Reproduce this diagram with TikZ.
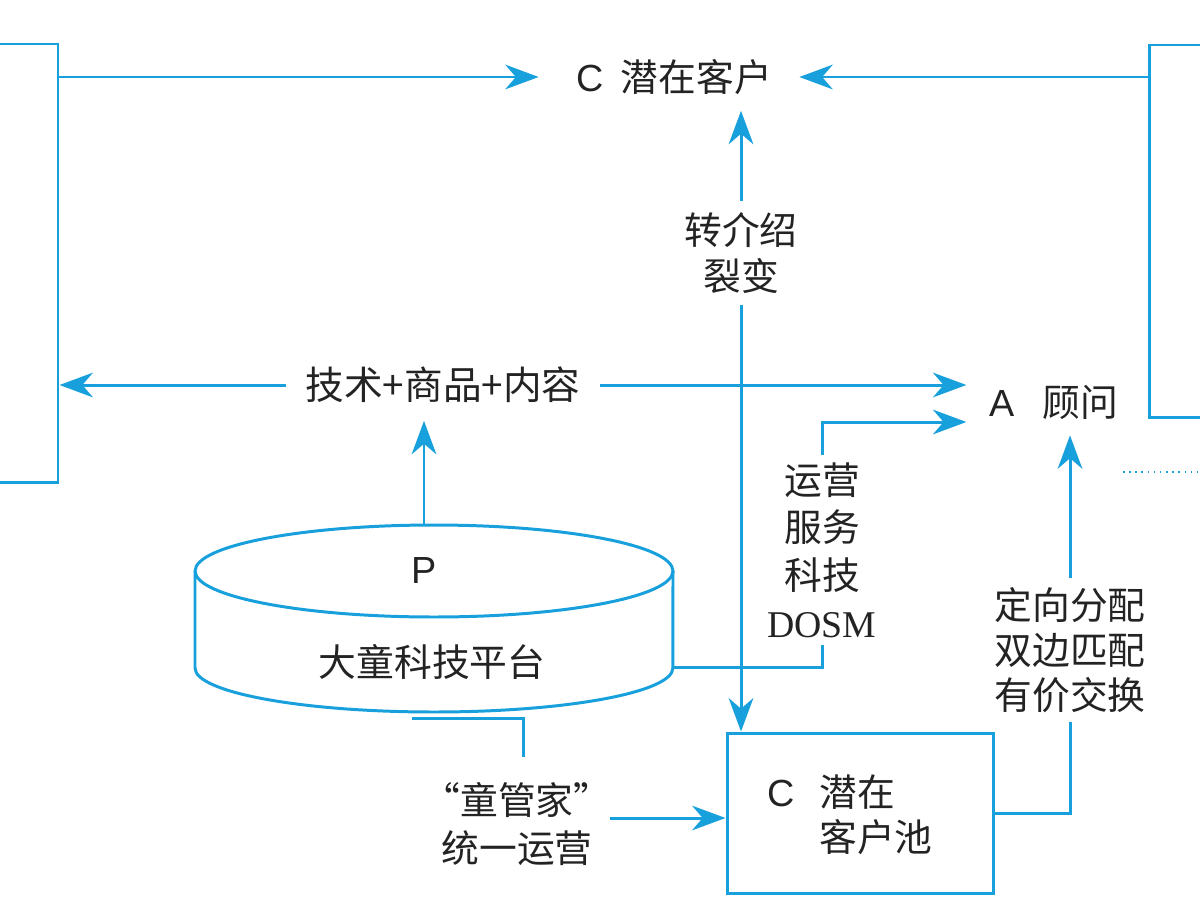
\documentclass[tikz,border=0pt]{standalone}
\usepackage{fontspec}
\setmainfont{Liberation Serif}
\newfontfamily\cnf{Noto Sans CJK SC}
\newfontfamily\latf{Liberation Sans}
\newfontfamily\serf{Liberation Serif}
\usetikzlibrary{arrows.meta,calc,fit}
\definecolor{bl}{RGB}{24,160,221}
\definecolor{txt}{RGB}{35,35,35}
\tikzset{
  ln/.style={draw=bl, line width=1.7pt},
  arr/.style={ln, -{Stealth[length=19pt,width=14pt,inset=6pt]}},
  boxst/.style={ln, inner sep=0pt},
  lbl/.style={inner sep=0pt, text=txt, align=center, font=\cnf\fontsize{21.5}{26.6}\selectfont},
}
\begin{document}
\begin{tikzpicture}[x=0.02cm, y=-0.02cm]
\useasboundingbox (0,0) rectangle (1200,900);
\clip (0,0) rectangle (1200,900);

% boxes
\node[boxst, fit={(-30,44) (58,482)}] (lbox) {};
\node[boxst, fit={(1149,45) (1240,417)}] (rbox) {};
\node[boxst, fit={(727,733) (993,893)}] (pool) {};

% text nodes
\node[lbl, inner ysep=9pt] (cpot) at (674,77) {{\latf C}\hspace{10pt}潜在客户};
\node[lbl, inner xsep=13pt, inner ysep=9pt] (adv) at (1054,402) {{\latf A}\hspace{16pt}顾问};
\node[lbl, inner xsep=11pt, inner ysep=10pt, font=\cnf\fontsize{22}{26.6}\selectfont] (tech) at (443,385) {技术+商品+内容};
\node[lbl, inner ysep=6pt, font=\cnf\fontsize{21.5}{26.6}\selectfont] (ref) at (741,253) {转介绍\\裂变};
\node[lbl, inner ysep=4pt, font=\cnf\fontsize{21.5}{27.2}\selectfont] (dosm) at (822,550) {运营\\服务\\科技\\{\serf DOSM}};
\node[lbl, inner ysep=5pt, font=\cnf\fontsize{21.5}{25.5}\selectfont] (match) at (1070,650) {定向分配\\双边匹配\\有价交换};
\node[lbl, inner xsep=9pt, font=\cnf\fontsize{21.5}{27}\selectfont] (unify) at (517,824) {“童管家”\\统一运营};
\node[lbl, font=\latf\fontsize{21.5}{26}\selectfont] (pc) at (781,793) {C};
\node[lbl, anchor=west, align=left, font=\cnf\fontsize{21.5}{25.5}\selectfont] (pt) at (819,815) {潜在\\客户池};

% cylinder
\draw[ln] (434,571) ellipse [x radius=4.78cm, y radius=0.92cm];
\draw[ln] (195,571) -- (195,668) arc[start angle=180, end angle=360, x radius=4.78cm, y radius=0.88cm] -- (673,571);
\node[lbl, font=\latf\fontsize{21.5}{26}\selectfont] (pp) at (424,570) {P};
\node[lbl] (plat) at (432,662) {大童科技平台};
\coordinate (cyltop) at (424,526);
\coordinate (cylR) at (673,667);
\coordinate (cylB) at (412,718);
\coordinate (unitop) at (523,757);
\coordinate (uarr) at (610,818);

% connectors
\draw[arr] (lbox.east |- cpot) -- ($(cpot.west)+(-37,0)$);
\draw[arr] (rbox.west |- cpot) -- ($(cpot.east)+(27,0)$);
\draw[arr] (ref.north) -- (ref.north |- cpot.south);
\draw[arr] (ref.south) -- (ref.south |- pool.north);
\draw[arr] (tech.west) -- (tech.west -| lbox.east);
\draw[arr] (tech.east) -- (tech.east -| adv.west);
\draw[arr] (cyltop) -- (cyltop |- tech.south);
\draw[ln] (cylR) -| (dosm.south);
\draw[arr] (dosm.north) |- ($(adv.west)+(0,20)$);
\draw[ln] (pool.east) -| (match.south);
\draw[arr] (match.north) -- (match.north |- adv.south);
\draw[ln] (cylB) -| (unitop);
\draw[arr] (uarr) -- (uarr -| pool.west);

% dotted line
\draw[bl, line width=1.2pt, dash pattern=on 0.9pt off 2.6pt] (1123,472) -- (1200,472);
\end{tikzpicture}
\end{document}
